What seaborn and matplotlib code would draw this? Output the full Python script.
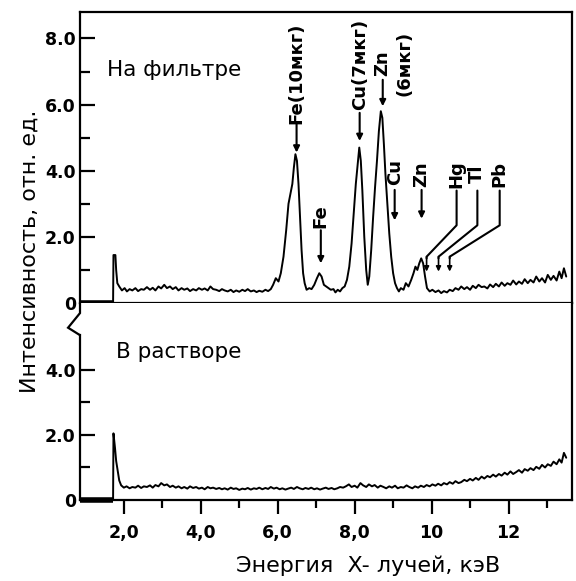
import numpy as np
import pandas as pd
import matplotlib
matplotlib.use("Agg")
import matplotlib.pyplot as plt
import seaborn as sns
from matplotlib.ticker import FixedLocator

# ---------------- data ----------------
energy_filter = [1.72, 1.73, 1.78, 1.80, 1.83, 1.88, 1.95, 2.02, 2.08, 2.15, 2.22, 2.30, 2.37, 2.45,
                 2.52, 2.60, 2.68, 2.75, 2.82, 2.90, 2.97, 3.05, 3.12, 3.20, 3.27, 3.35, 3.42, 3.50,
                 3.57, 3.65, 3.72, 3.80, 3.88, 3.95, 4.03, 4.10, 4.18, 4.25, 4.32, 4.40, 4.48, 4.55,
                 4.62, 4.70, 4.78, 4.85, 4.92, 5.00, 5.08, 5.15, 5.22, 5.30, 5.38, 5.45, 5.52, 5.60,
                 5.68, 5.75, 5.82, 5.88, 5.95, 6.02, 6.08, 6.15, 6.22, 6.28, 6.33, 6.38, 6.42, 6.46,
                 6.50, 6.54, 6.58, 6.62, 6.66, 6.70, 6.75, 6.82, 6.88, 6.95, 7.02, 7.08, 7.14, 7.20,
                 7.26, 7.32, 7.38, 7.45, 7.50, 7.56, 7.62, 7.68, 7.74, 7.80, 7.86, 7.92, 7.98, 8.03,
                 8.08, 8.12, 8.16, 8.20, 8.25, 8.30, 8.34, 8.38, 8.43, 8.48, 8.53, 8.58, 8.63, 8.68,
                 8.72, 8.76, 8.80, 8.85, 8.90, 8.95, 9.00, 9.05, 9.10, 9.15, 9.20, 9.27, 9.33, 9.40,
                 9.47, 9.53, 9.58, 9.63, 9.68, 9.73, 9.78, 9.83, 9.88, 9.95, 10.02, 10.10, 10.18,
                 10.25, 10.32, 10.40, 10.47, 10.55, 10.62, 10.70, 10.77, 10.85, 10.92, 11.00, 11.07,
                 11.15, 11.22, 11.30, 11.37, 11.45, 11.52, 11.60, 11.67, 11.75, 11.82, 11.90, 11.97,
                 12.05, 12.12, 12.20, 12.27, 12.35, 12.42, 12.50, 12.57, 12.65, 12.72, 12.80, 12.87,
                 12.95, 13.02, 13.10, 13.17, 13.25, 13.32, 13.38, 13.44, 13.50]
intensity_filter = [0.0, 1.45, 1.45, 1.0, 0.6, 0.5, 0.38, 0.45, 0.35, 0.42, 0.38, 0.45, 0.36, 0.42,
                    0.40, 0.48, 0.40, 0.46, 0.38, 0.50, 0.44, 0.55, 0.45, 0.50, 0.42, 0.48, 0.38, 0.45,
                    0.40, 0.44, 0.36, 0.42, 0.38, 0.45, 0.40, 0.44, 0.38, 0.50, 0.42, 0.40, 0.36, 0.42,
                    0.38, 0.35, 0.40, 0.33, 0.38, 0.34, 0.40, 0.36, 0.42, 0.35, 0.38, 0.33, 0.37, 0.34,
                    0.40, 0.36, 0.42, 0.55, 0.75, 0.65, 0.9, 1.4, 2.2, 3.0, 3.3, 3.6, 4.1, 4.5,
                    4.3, 3.6, 2.6, 1.6, 0.9, 0.6, 0.4, 0.45, 0.42, 0.55, 0.75, 0.9, 0.8, 0.55,
                    0.50, 0.45, 0.40, 0.42, 0.32, 0.40, 0.35, 0.45, 0.5, 0.7, 1.1, 1.8, 2.8, 3.6,
                    4.2, 4.7, 4.3, 3.4, 2.0, 1.0, 0.55, 0.8, 1.6, 2.6, 3.5, 4.3, 5.2, 5.8,
                    5.6, 4.8, 3.9, 3.0, 2.1, 1.4, 0.9, 0.6, 0.45, 0.35, 0.45, 0.40, 0.6, 0.5,
                    0.7, 0.9, 1.1, 1.0, 1.2, 1.35, 1.2, 0.8, 0.45, 0.35, 0.40, 0.33, 0.38,
                    0.30, 0.36, 0.32, 0.40, 0.36, 0.45, 0.40, 0.50, 0.42, 0.48, 0.40, 0.52,
                    0.45, 0.55, 0.48, 0.50, 0.44, 0.56, 0.48, 0.58, 0.50, 0.62, 0.52, 0.60,
                    0.55, 0.68, 0.56, 0.65, 0.58, 0.72, 0.60, 0.70, 0.62, 0.80, 0.65, 0.75,
                    0.62, 0.85, 0.70, 0.82, 0.68, 0.95, 0.75, 1.05, 0.80]

energy_solution = [1.72, 1.73, 1.77, 1.80, 1.84, 1.88, 1.93, 2.00, 2.07, 2.15, 2.22, 2.30, 2.37, 2.45,
                   2.52, 2.60, 2.68, 2.75, 2.82, 2.90, 2.97, 3.05, 3.12, 3.20, 3.27, 3.35, 3.42, 3.50,
                   3.57, 3.65, 3.72, 3.80, 3.88, 3.95, 4.03, 4.10, 4.18, 4.25, 4.32, 4.40, 4.48, 4.55,
                   4.62, 4.70, 4.78, 4.85, 4.92, 5.00, 5.08, 5.15, 5.22, 5.30, 5.38, 5.45, 5.52, 5.60,
                   5.68, 5.75, 5.82, 5.90, 5.97, 6.05, 6.12, 6.20, 6.27, 6.35, 6.42, 6.50, 6.57, 6.65,
                   6.72, 6.80, 6.87, 6.95, 7.02, 7.10, 7.17, 7.25, 7.32, 7.40, 7.47, 7.55, 7.62, 7.70,
                   7.77, 7.85, 7.92, 8.00, 8.07, 8.15, 8.22, 8.30, 8.37, 8.45, 8.52, 8.60, 8.67, 8.75,
                   8.82, 8.90, 8.97, 9.05, 9.12, 9.20, 9.27, 9.35, 9.42, 9.50, 9.57, 9.65, 9.72, 9.80,
                   9.87, 9.95, 10.02, 10.10, 10.17, 10.25, 10.32, 10.40, 10.47, 10.55, 10.62, 10.70,
                   10.77, 10.85, 10.92, 11.00, 11.07, 11.15, 11.22, 11.30, 11.37, 11.45, 11.52, 11.60,
                   11.67, 11.75, 11.82, 11.90, 11.97, 12.05, 12.12, 12.20, 12.27, 12.35, 12.42, 12.50,
                   12.57, 12.65, 12.72, 12.80, 12.87, 12.95, 13.02, 13.10, 13.17, 13.25, 13.32, 13.38,
                   13.44, 13.50]
intensity_solution = [0.0, 2.05, 1.6, 1.2, 0.9, 0.6, 0.45, 0.38, 0.42, 0.36, 0.40, 0.38, 0.44, 0.37,
                      0.42, 0.40, 0.45, 0.38, 0.46, 0.42, 0.52, 0.45, 0.48, 0.40, 0.44, 0.38, 0.42, 0.36,
                      0.40, 0.35, 0.42, 0.37, 0.40, 0.35, 0.38, 0.33, 0.40, 0.36, 0.38, 0.34, 0.37, 0.33,
                      0.36, 0.32, 0.38, 0.34, 0.36, 0.31, 0.35, 0.33, 0.37, 0.32, 0.36, 0.34, 0.38, 0.33,
                      0.37, 0.34, 0.40, 0.35, 0.38, 0.33, 0.36, 0.32, 0.35, 0.38, 0.34, 0.40, 0.36, 0.33,
                      0.37, 0.34, 0.38, 0.33, 0.36, 0.32, 0.35, 0.38, 0.34, 0.37, 0.33, 0.36, 0.40, 0.38,
                      0.42, 0.48, 0.40, 0.44, 0.38, 0.52, 0.45, 0.40, 0.48, 0.42, 0.46, 0.38, 0.44, 0.40,
                      0.36, 0.42, 0.38, 0.44, 0.36, 0.40, 0.38, 0.45, 0.40, 0.36, 0.42, 0.38, 0.44, 0.40,
                      0.46, 0.42, 0.48, 0.44, 0.50, 0.45, 0.52, 0.48, 0.55, 0.50, 0.58, 0.52,
                      0.55, 0.62, 0.58, 0.65, 0.60, 0.68, 0.62, 0.72, 0.66, 0.74, 0.70, 0.78,
                      0.72, 0.80, 0.75, 0.84, 0.78, 0.88, 0.80, 0.86, 0.92, 0.84, 0.95, 0.90,
                      0.98, 0.92, 1.02, 0.96, 1.08, 1.00, 1.10, 1.05, 1.18, 1.10, 1.25, 1.15,
                      1.45, 1.30]

zero_region = [0.86, 1.72]          # energy range with zero counts (thick baseline)
x_major = [2, 4, 6, 8, 10, 12]
x_labels = ["2,0", "4,0", "6,0", "8,0", "10", "12"]
x_minor = [3, 5, 7, 9, 11, 13]
top_yticks = [0, 2, 4, 6, 8]
top_ylabels = ["0", "2.0", "4.0", "6.0", "8.0"]
bot_yticks = [0, 2, 4]
bot_ylabels = ["0", "2.0", "4.0"]

# peak labels: (text, x, text_y, arrow_top, arrow_bottom)
peak_labels = [("Fe(10мкг)", 6.49, 6.95, 5.45, 4.55),
               ("Fe", 7.12, 2.62, 2.2, 1.2),
               ("Cu(7мкг)", 8.13, 7.2, 5.75, 4.9),
               ("Zn", 8.73, 7.25, 6.75, 5.95),
               ("Cu", 9.04, 3.95, 3.42, 2.5),
               ("Zn", 9.74, 3.9, 3.42, 2.55)]
group_labels = [("Hg", 10.65, 9.87), ("Tl", 11.19, 10.18), ("Pb", 11.77, 10.47)]

n_f = min(len(energy_filter), len(intensity_filter))
n_s = min(len(energy_solution), len(intensity_solution))

# ---------------- figure ----------------
sns.set_theme(style="ticks")
plt.rcParams['font.family'] = ['DejaVu Sans']
plt.rcParams['text.color'] = 'black'
plt.rcParams['xtick.color'] = 'black'
plt.rcParams['ytick.color'] = 'black'
plt.rcParams['axes.labelcolor'] = 'black'
fig = plt.figure(figsize=(5.76, 5.81), dpi=100)

L, R = 80 / 576, 572 / 576
ax_top = fig.add_axes([L, 1 - 303 / 581, R - L, (303 - 12) / 581])
ax_bot = fig.add_axes([L, 1 - 500 / 581, R - L, (500 - 303) / 581], sharex=ax_top)

df_f = pd.DataFrame({"E": energy_filter[:n_f], "I": intensity_filter[:n_f]})
df_s = pd.DataFrame({"E": energy_solution[:n_s], "I": intensity_solution[:n_s]})
sns.lineplot(data=df_f, x="E", y="I", ax=ax_top, color="black", lw=1.4,
             estimator=None, sort=False)
sns.lineplot(data=df_s, x="E", y="I", ax=ax_bot, color="black", lw=1.4,
             estimator=None, sort=False)
for ax in (ax_top, ax_bot):
    ax.plot(zero_region, [0, 0], color="black", lw=4, solid_capstyle="butt", clip_on=False)

xmin, xmax = 0.86, 13.65
ax_top.set_xlim(xmin, xmax)
ax_top.set_ylim(0, 8.8)
ax_bot.set_ylim(0, 6.06)

for ax in (ax_top, ax_bot):
    ax.set_xlabel("")
    ax.set_ylabel("")
    for s in ax.spines.values():
        s.set_linewidth(1.6)
        s.set_color("black")

# top panel ticks
ax_top.yaxis.set_major_locator(FixedLocator(top_yticks))
ax_top.set_yticklabels(top_ylabels)
ax_top.yaxis.set_minor_locator(FixedLocator([1, 3, 5, 7]))
ax_top.tick_params(axis="y", which="major", direction="in", length=11, width=1.6,
                   labelsize=12.5, pad=3, colors="black")
ax_top.tick_params(axis="y", which="minor", direction="in", length=7, width=1.6, colors="black")
ax_top.xaxis.set_major_locator(FixedLocator(list(range(2, 14))))
ax_top.tick_params(axis="x", which="major", direction="out", length=4, width=1.6,
                   labelbottom=False, colors="black")
for lab in ax_top.get_yticklabels():
    lab.set_fontweight("bold")

# bottom panel ticks
ax_bot.spines["top"].set_visible(False)
ax_bot.spines["left"].set_bounds(0, 5.07)
ax_bot.yaxis.set_major_locator(FixedLocator(bot_yticks))
ax_bot.set_yticklabels(bot_ylabels)
ax_bot.yaxis.set_minor_locator(FixedLocator([1, 3]))
ax_bot.tick_params(axis="y", which="major", direction="in", length=11, width=1.6,
                   labelsize=12.5, pad=3, colors="black")
ax_bot.tick_params(axis="y", which="minor", direction="in", length=7, width=1.6, colors="black")
ax_bot.xaxis.set_major_locator(FixedLocator(x_major))
ax_bot.set_xticklabels(x_labels)
ax_bot.xaxis.set_minor_locator(FixedLocator(x_minor))
ax_bot.tick_params(axis="x", which="major", direction="out", length=10, width=1.6,
                   labelsize=12.5, pad=7, labelbottom=True, colors="black")
ax_bot.tick_params(axis="x", which="minor", direction="out", length=6, width=1.6, colors="black")
for lab in ax_bot.get_yticklabels() + ax_bot.get_xticklabels():
    lab.set_fontweight("bold")

# break zig-zag on the left spine
ax_bot.plot([xmin, xmin, xmin - 0.31, xmin, xmin], [6.06, 5.75, 5.3, 5.07, 5.07],
            color="black", lw=1.6, clip_on=False, solid_joinstyle="miter")

# panel titles
ax_top.text(1.55, 7.05, "На фильтре", fontsize=15.5, ha="left", va="center")
ax_bot.text(1.8, 4.55, "В растворе", fontsize=15.5, ha="left", va="center")

# peak labels with arrows
for txt, x, ty, a0, a1 in peak_labels:
    ax_top.text(x, ty, txt, rotation=90, fontsize=13, ha="center", va="center",
                fontweight="bold")
    ax_top.annotate("", xy=(x, a1), xytext=(x, a0),
                    arrowprops=dict(arrowstyle="-|>", color="black", lw=1.5,
                                    mutation_scale=9, shrinkA=0, shrinkB=0))
ax_top.text(9.30, 7.25, "(6мкг)", rotation=90, fontsize=13, ha="center", va="center",
            fontweight="bold")

for txt, xt, xb in group_labels:
    ax_top.text(xt, 3.9, txt, rotation=90, fontsize=13, ha="center", va="center",
                fontweight="bold")
    ax_top.plot([xt, xt, xb, xb], [3.4, 2.35, 1.4, 1.35], color="black", lw=1.5)
    ax_top.annotate("", xy=(xb, 0.95), xytext=(xb, 1.4),
                    arrowprops=dict(arrowstyle="-|>", color="black", lw=1.2,
                                    mutation_scale=7, shrinkA=0, shrinkB=0))

# axis labels
fig.text(0.052, 1 - 251 / 581, "Интенсивность, отн. ед.", rotation=90, fontsize=16,
         ha="center", va="center")
fig.text(368 / 576, 1 - 566 / 581, "Энергия  X- лучей, кэВ", fontsize=16,
         ha="center", va="center")

fig.savefig("out.png", dpi=100)
